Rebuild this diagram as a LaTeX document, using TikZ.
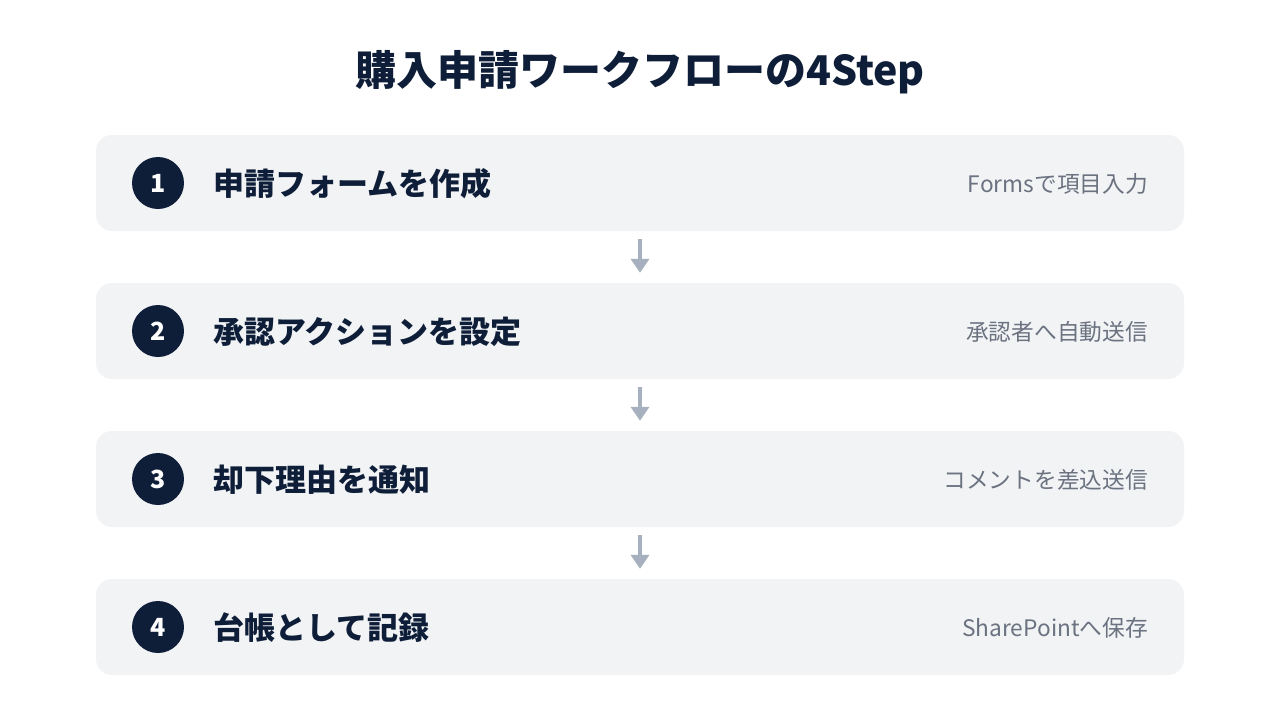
\documentclass[tikz,border=0pt]{standalone}
\usepackage{fontspec}
\setmainfont{Noto Sans CJK JP}
\usepackage{tikz}
\usetikzlibrary{arrows.meta}
\usetikzlibrary{positioning}
\usepackage{xcolor}
\definecolor{navy}{HTML}{0F1E38}
\definecolor{boxgray}{HTML}{F1F3F5}
\definecolor{subgray}{HTML}{6B7280}
\definecolor{arrowgray}{HTML}{A7B0BE}
\tikzset{
	stepbox/.style={rectangle,rounded corners=16pt,fill=boxgray,minimum width=1088pt,minimum height=96pt,inner sep=0pt},
	numdot/.style={circle,fill=navy,minimum size=52pt,inner sep=0pt,text=white,font=\fontsize{25}{30}\selectfont\bfseries},
	steptitle/.style={anchor=west,inner sep=0pt,text=navy,font=\fontsize{31}{37}\selectfont\bfseries},
	stepnote/.style={anchor=east,inner sep=0pt,text=subgray,font=\fontsize{22.7}{27}\selectfont},
	flowarrow/.style={draw=arrowgray,line width=4pt,-{Triangle[width=18pt,length=14pt]},shorten <=8pt,shorten >=10pt}
}

\begin{document}
\begin{tikzpicture}[x=1pt,y=-1pt]
	\useasboundingbox (0,0) rectangle (1280,720);
	\node[text=navy,font=\fontsize{41}{49}\selectfont\bfseries] (Title) at (640,72) {購入申請ワークフローの4Step};
	\node[stepbox] (StepForm) at (640,183) {};
	\node[stepbox] (StepApprove) at (640,331) {};
	\node[stepbox] (StepReject) at (640,479) {};
	\node[stepbox] (StepRecord) at (640,627) {};
	\node[numdot] (NumForm) at (158,183) {1};
	\node[numdot] (NumApprove) at (158,331) {2};
	\node[numdot] (NumReject) at (158,479) {3};
	\node[numdot] (NumRecord) at (158,627) {4};
	\node[steptitle] (TitleForm) at (213,184) {申請フォームを作成};
	\node[steptitle] (TitleApprove) at (213,332) {承認アクションを設定};
	\node[steptitle] (TitleReject) at (213,480) {却下理由を通知};
	\node[steptitle] (TitleRecord) at (213,628) {台帳として記録};
	\node[stepnote] (NoteForm) at (1148,184) {Formsで項目入力};
	\node[stepnote] (NoteApprove) at (1148,332) {承認者へ自動送信};
	\node[stepnote] (NoteReject) at (1148,480) {コメントを差込送信};
	\node[stepnote] (NoteRecord) at (1148,628) {SharePointへ保存};
	\draw[flowarrow] (StepForm) -- (StepApprove);
	\draw[flowarrow] (StepApprove) -- (StepReject);
	\draw[flowarrow] (StepReject) -- (StepRecord);
\end{tikzpicture}
\end{document}
